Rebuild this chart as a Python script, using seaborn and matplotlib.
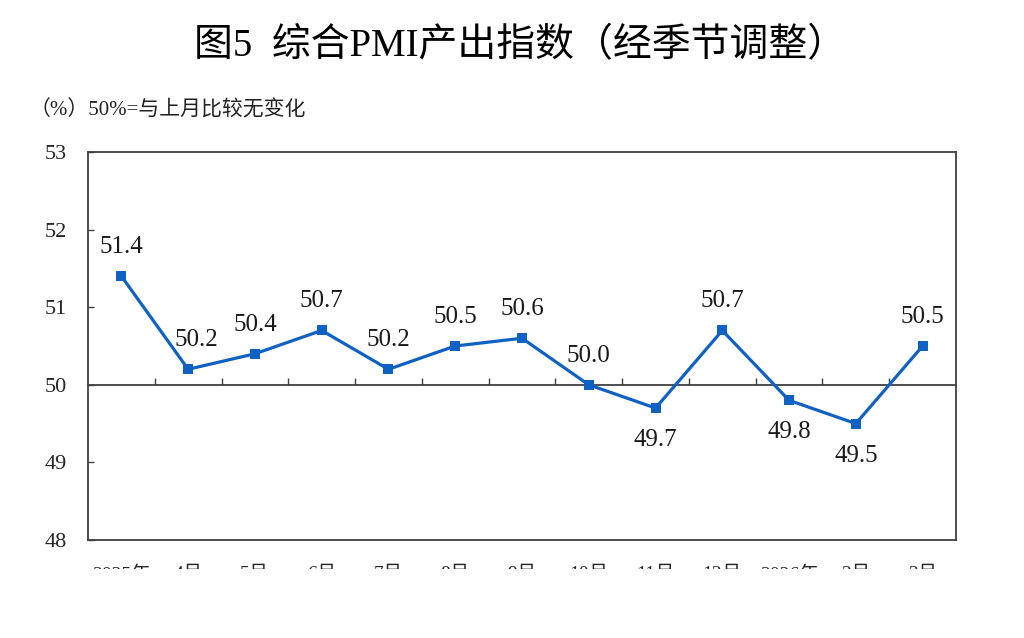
import numpy as np
import pandas as pd
import matplotlib
matplotlib.use("Agg")
import matplotlib.pyplot as plt
import seaborn as sns
from matplotlib.transforms import Bbox, TransformedBbox

# --- data ---
months = ["2025年\n3月", "4月", "5月", "6月", "7月", "8月", "9月",
          "10月", "11月", "12月", "2026年\n1月", "2月", "3月"]
pmi_output = [51.4, 50.2, 50.4, 50.7, 50.2, 50.5, 50.6,
              50.0, 49.7, 50.7, 49.8, 49.5, 50.5]
label_below = [False, False, False, False, False, False, False,
               False, True, False, True, True, False]
y_ticks = [48, 49, 50, 51, 52, 53]

df = pd.DataFrame({"month": months, "value": pmi_output})

sns.set_style("white")
plt.rcParams["font.family"] = ["Liberation Serif", "Noto Sans CJK SC", "DejaVu Sans"]

line_color = "#0F62C4"
frame_color = "#404040"

fig = plt.figure(figsize=(10.24, 6.38), dpi=100)
ax = fig.add_axes([88 / 1024, 1 - 540 / 638, 868 / 1024, 388 / 638])

sns.lineplot(data=df, x="month", y="value", ax=ax, color=line_color,
             linewidth=2.3, marker="s", markersize=7, markeredgewidth=0,
             sort=False)

ax.set_xlim(-0.5, len(months) - 0.5)
ax.set_ylim(48, 53)
ax.set_yticks(y_ticks)
ax.set_yticklabels([str(t) for t in y_ticks], fontsize=16)
ax.set_xlabel("")
ax.set_ylabel("")

for s in ax.spines.values():
    s.set_color(frame_color)
    s.set_linewidth(1.3)

ax.tick_params(axis="y", direction="in", length=4, width=1, color=frame_color,
               pad=15, left=True)
ax.tick_params(axis="x", length=0, pad=18.5, labelsize=14)

# tick labels are cut off at the bottom in the reference
clip = TransformedBbox(Bbox([[0, 69 / 638], [1, 1]]), fig.transFigure)
for lab in ax.get_xticklabels():
    lab.set_clip_box(clip)
    lab.set_clip_on(True)

# horizontal 50 line with category boundary ticks
sec = ax.secondary_xaxis(0.4)
sec.set_xticks(np.arange(0.5, len(months) - 1, 1))
sec.set_xticklabels([])
sec.tick_params(direction="in", length=5, width=1, color=frame_color)
sec.spines["bottom"].set_color(frame_color)
sec.spines["bottom"].set_linewidth(1.3)

for i, (v, below) in enumerate(zip(pmi_output, label_below)):
    off = -23 if below else 21
    dx = 6 if i == 1 else 0
    ax.annotate(f"{v:.1f}", (i, v), xytext=(dx, off), textcoords="offset points",
                ha="center", va="center", fontsize=18, color="#1a1a1a")

fig.text(0.508, 1 - 47 / 638, "图5  综合PMI产出指数（经季节调整）",
         ha="center", va="center", fontsize=28, color="#000000")
fig.text(30 / 1024, 1 - 110 / 638, "（%）50%=与上月比较无变化",
         ha="left", va="center", fontsize=15, color="#222222")

fig.savefig("out.png", dpi=100)
